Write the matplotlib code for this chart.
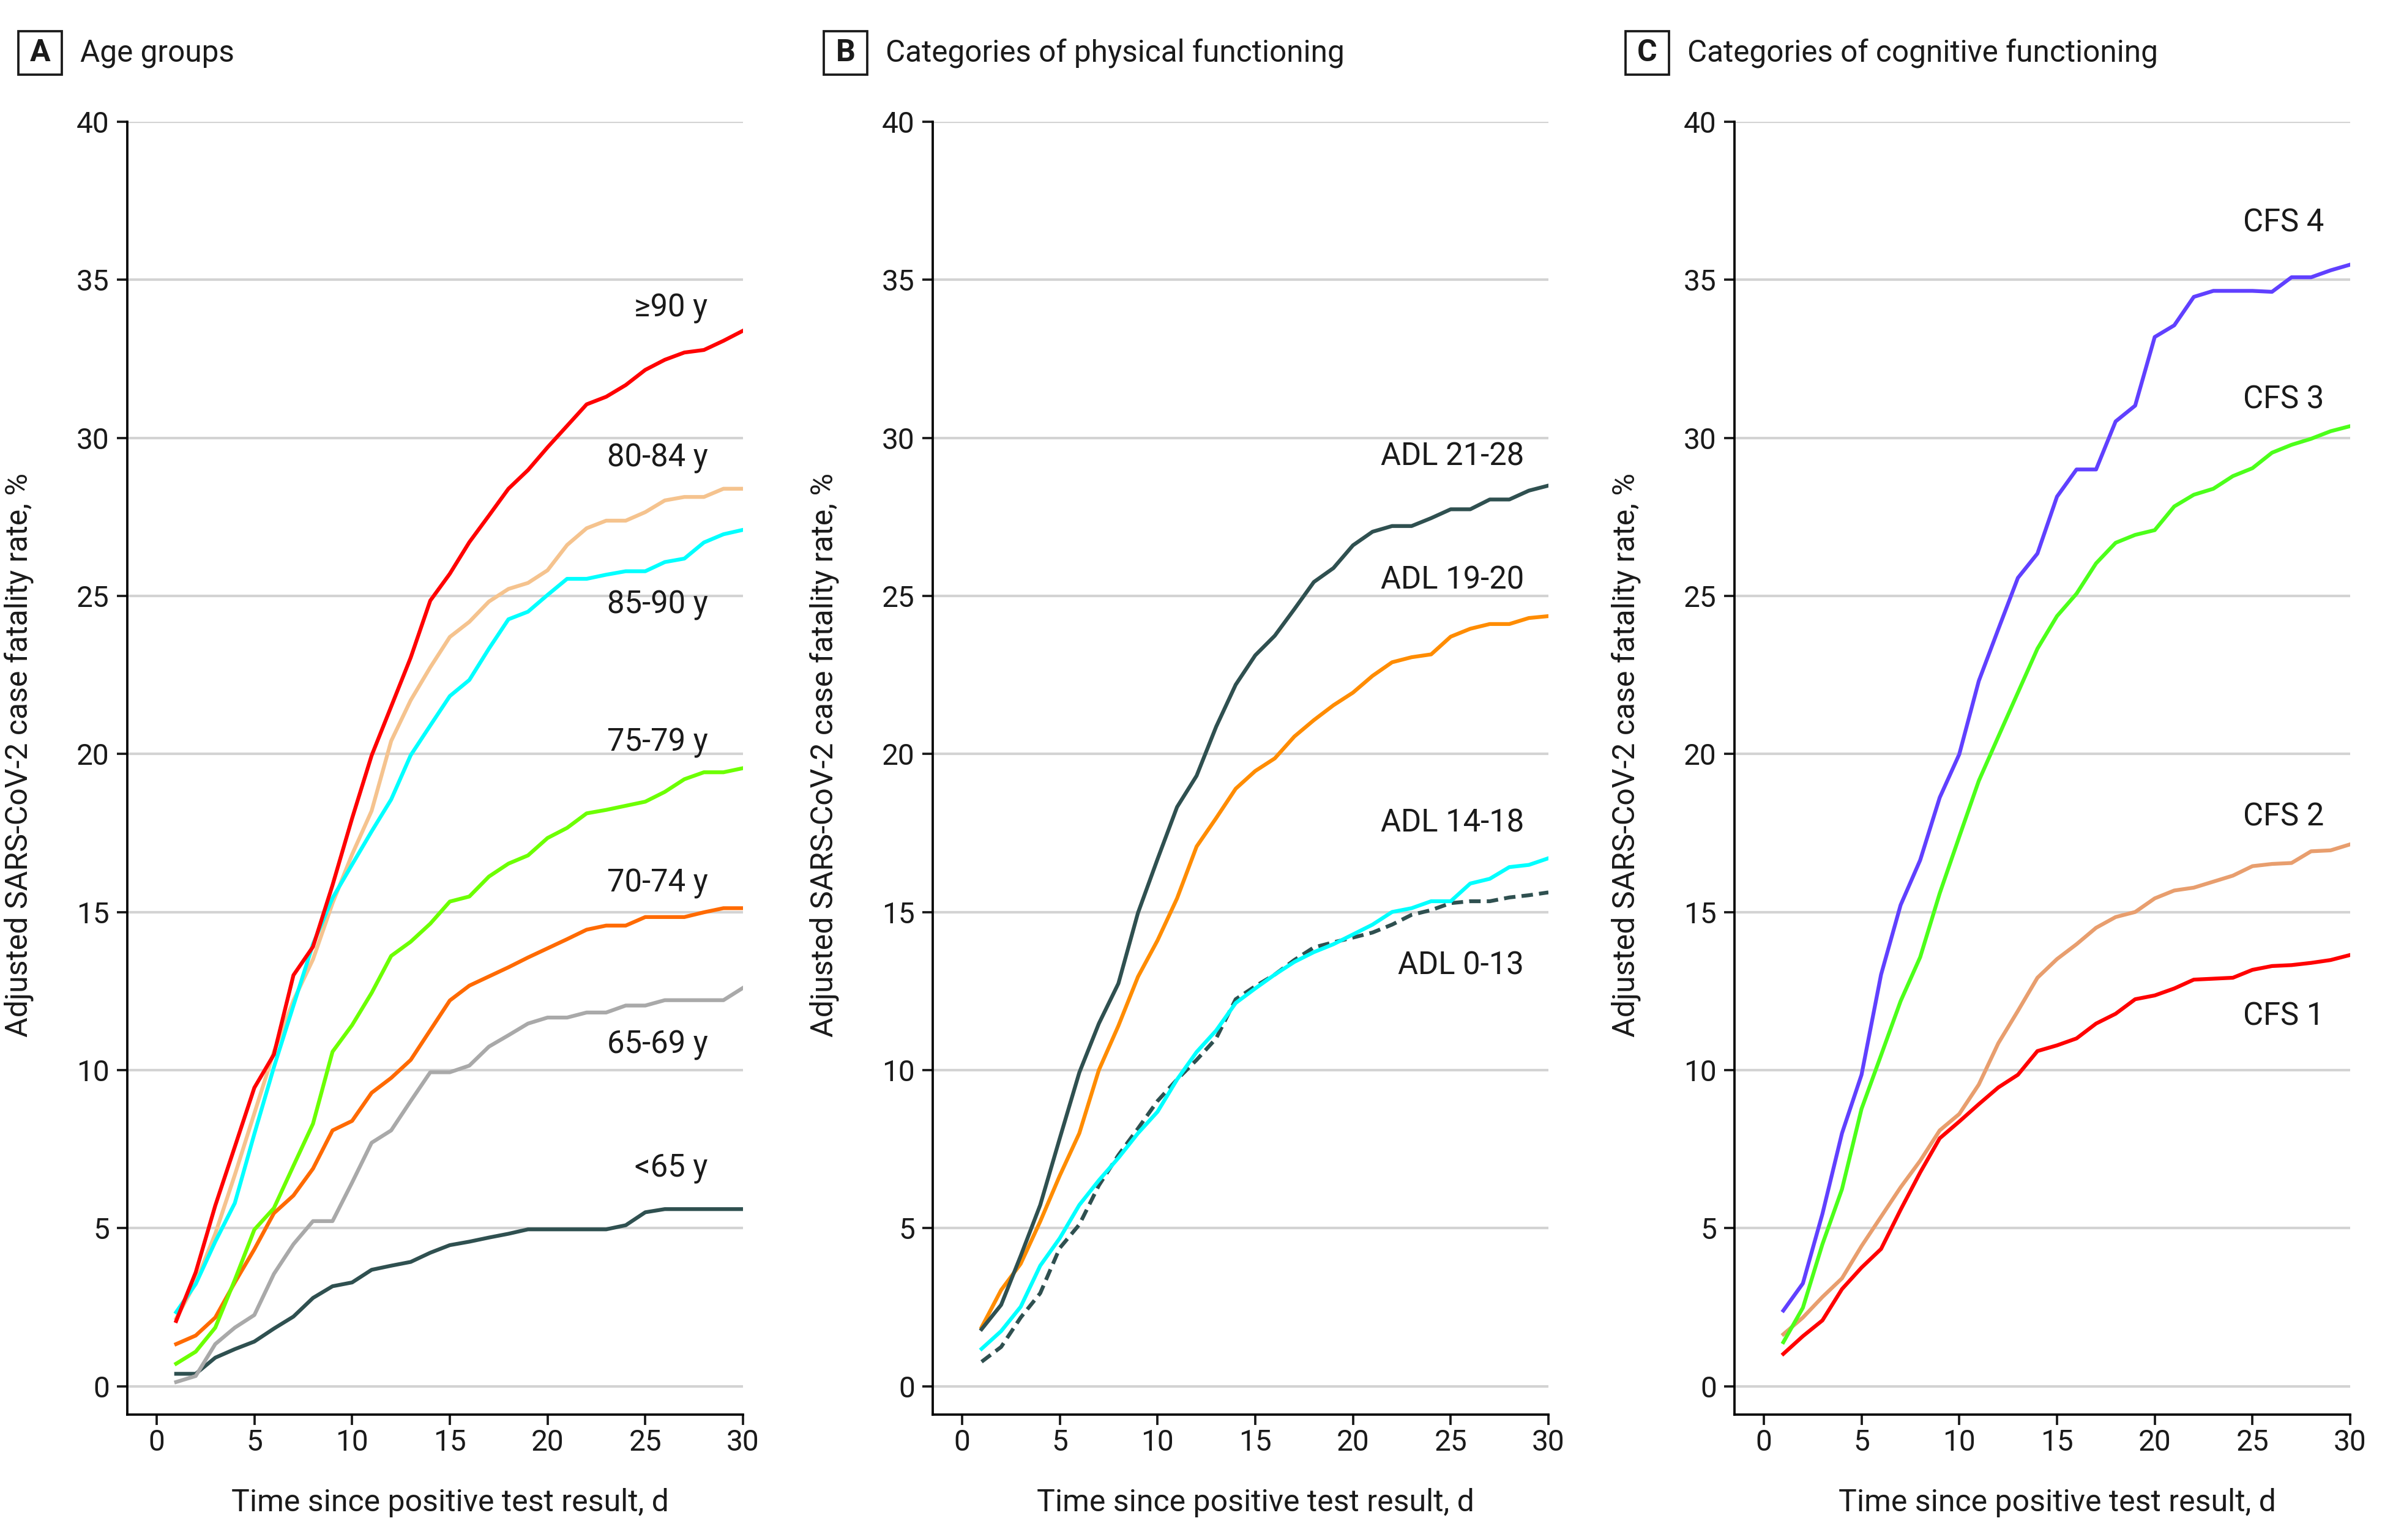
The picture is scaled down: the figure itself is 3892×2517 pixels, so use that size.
#!/usr/bin/env python3

# Adjusted SARS-CoV-2 case fatality rate over 30 days, by age group,
# physical functioning (ADL) and cognitive functioning (CFS)

import matplotlib as mpl
mpl.use('Agg')
from matplotlib import pyplot as plt
from matplotlib.patches import Rectangle

mpl.rcParams['font.family'] = ['Roboto', 'DejaVu Sans']

days = list(range(1, 31))

# panel A - age groups
age_lt65 = [0.39, 0.39, 0.90, 1.17, 1.41, 1.82, 2.20, 2.79, 3.16, 3.28,
            3.68, 3.81, 3.93, 4.22, 4.46, 4.57, 4.70, 4.82, 4.96, 4.96,
            4.96, 4.96, 4.96, 5.09, 5.50, 5.60, 5.60, 5.60, 5.60, 5.60]
age_65_69 = [0.13, 0.32, 1.33, 1.85, 2.25, 3.55, 4.49, 5.22, 5.22, 6.44,
             7.70, 8.09, 9.02, 9.93, 9.93, 10.14, 10.74, 11.10, 11.47, 11.66,
             11.66, 11.82, 11.82, 12.04, 12.04, 12.21, 12.21, 12.21, 12.21, 12.60]
age_70_74 = [1.33, 1.60, 2.17, 3.28, 4.33, 5.47, 6.03, 6.88, 8.09, 8.39,
             9.28, 9.75, 10.32, 11.26, 12.20, 12.67, 12.96, 13.25, 13.56, 13.85,
             14.14, 14.44, 14.57, 14.57, 14.84, 14.84, 14.84, 14.99, 15.12, 15.12]
age_75_79 = [0.71, 1.09, 1.85, 3.36, 4.95, 5.63, 6.97, 8.30, 10.58, 11.42,
             12.44, 13.61, 14.06, 14.63, 15.33, 15.49, 16.12, 16.53, 16.79, 17.34,
             17.66, 18.12, 18.23, 18.36, 18.49, 18.80, 19.20, 19.42, 19.42, 19.55]
age_80_84 = [2.14, 3.28, 4.82, 6.68, 8.63, 10.58, 12.20, 13.50, 15.28, 16.82,
             18.20, 20.41, 21.70, 22.74, 23.70, 24.18, 24.82, 25.22, 25.41, 25.81,
             26.61, 27.14, 27.38, 27.38, 27.65, 28.02, 28.13, 28.13, 28.39, 28.39]
age_85_90 = [2.34, 3.23, 4.57, 5.79, 7.98, 10.09, 12.04, 13.98, 15.44, 16.50,
             17.55, 18.56, 19.96, 20.90, 21.83, 22.34, 23.33, 24.26, 24.50, 25.03,
             25.54, 25.54, 25.67, 25.78, 25.78, 26.07, 26.18, 26.69, 26.95, 27.09]
age_ge90 = [2.06, 3.60, 5.71, 7.57, 9.44, 10.49, 13.00, 13.90, 15.85, 17.96,
            19.95, 21.50, 23.05, 24.85, 25.70, 26.70, 27.54, 28.39, 28.98, 29.70,
            30.38, 31.06, 31.30, 31.67, 32.15, 32.47, 32.70, 32.78, 33.07, 33.39]

# panel B - activities of daily living
adl_21_28 = [1.80, 2.57, 4.12, 5.73, 7.84, 9.92, 11.47, 12.74, 14.97, 16.67,
             18.32, 19.31, 20.86, 22.19, 23.12, 23.74, 24.58, 25.44, 25.88, 26.60,
             27.03, 27.21, 27.21, 27.46, 27.74, 27.74, 28.05, 28.05, 28.33, 28.49]
adl_19_20 = [1.86, 3.04, 3.87, 5.21, 6.66, 8.00, 10.00, 11.40, 12.95, 14.10,
             15.43, 17.07, 17.97, 18.90, 19.46, 19.86, 20.55, 21.07, 21.54, 21.94,
             22.47, 22.90, 23.06, 23.15, 23.71, 23.96, 24.11, 24.11, 24.30, 24.36]
adl_14_18 = [1.18, 1.74, 2.51, 3.81, 4.68, 5.73, 6.51, 7.22, 8.00, 8.68,
             9.70, 10.57, 11.25, 12.12, 12.58, 13.02, 13.42, 13.73, 13.98, 14.29,
             14.60, 15.00, 15.12, 15.34, 15.34, 15.90, 16.05, 16.42, 16.49, 16.70]
adl_0_13 = [0.77, 1.24, 2.17, 2.94, 4.37, 5.11, 6.35, 7.31, 8.15, 9.02,
            9.70, 10.32, 11.00, 12.24, 12.65, 13.02, 13.48, 13.88, 14.04, 14.19,
            14.35, 14.60, 14.91, 15.06, 15.28, 15.34, 15.34, 15.46, 15.53, 15.62]

# panel C - clinical frailty scale
cfs_4 = [2.39, 3.25, 5.45, 8.00, 9.85, 13.02, 15.22, 16.64, 18.62, 19.99,
         22.31, 23.95, 25.57, 26.34, 28.14, 29.00, 29.00, 30.52, 31.02, 33.19,
         33.56, 34.46, 34.65, 34.65, 34.65, 34.62, 35.08, 35.08, 35.30, 35.48]
cfs_3 = [1.39, 2.48, 4.49, 6.23, 8.77, 10.47, 12.18, 13.57, 15.59, 17.38,
         19.15, 20.55, 21.94, 23.33, 24.36, 25.07, 26.03, 26.68, 26.93, 27.08,
         27.83, 28.20, 28.39, 28.79, 29.04, 29.53, 29.78, 29.97, 30.21, 30.37]
cfs_2 = [1.64, 2.17, 2.82, 3.41, 4.43, 5.36, 6.29, 7.13, 8.09, 8.61,
         9.54, 10.85, 11.87, 12.92, 13.51, 13.98, 14.50, 14.84, 15.00, 15.43,
         15.68, 15.77, 15.96, 16.15, 16.45, 16.52, 16.55, 16.92, 16.95, 17.14]
cfs_1 = [1.02, 1.58, 2.08, 3.07, 3.75, 4.34, 5.58, 6.76, 7.84, 8.37,
         8.92, 9.45, 9.85, 10.60, 10.78, 11.00, 11.47, 11.78, 12.24, 12.36,
         12.58, 12.86, 12.89, 12.92, 13.17, 13.29, 13.32, 13.39, 13.48, 13.64]

panel_letters = ['A', 'B', 'C']
panel_titles = ['Age groups', 'Categories of physical functioning',
                'Categories of cognitive functioning']

# (series, color, linestyle, label, label x, label y)
panels = [
    [(age_lt65, '#2f5050', '-', '<65 y', 28.2, 6.9),
     (age_65_69, '#a9a9a9', '-', '65-69 y', 28.2, 10.8),
     (age_70_74, '#ff6a00', '-', '70-74 y', 28.2, 15.9),
     (age_75_79, '#6cff00', '-', '75-79 y', 28.2, 20.35),
     (age_80_84, '#f5c38e', '-', '80-84 y', 28.2, 29.35),
     (age_85_90, '#00ffff', '-', '85-90 y', 28.2, 24.7),
     (age_ge90, '#ff0000', '-', '\u226590 y', 28.2, 34.1)],
    [(adl_0_13, '#2f5050', (0, (3, 1.6)), 'ADL 0-13', 28.75, 13.3),
     (adl_14_18, '#00ffff', '-', 'ADL 14-18', 28.75, 17.8),
     (adl_19_20, '#ff8c00', '-', 'ADL 19-20', 28.75, 25.5),
     (adl_21_28, '#2f5050', '-', 'ADL 21-28', 28.75, 29.4)],
    [(cfs_1, '#ff0000', '-', 'CFS 1', 28.65, 11.7),
     (cfs_2, '#e89e6e', '-', 'CFS 2', 28.65, 18.0),
     (cfs_3, '#4cff1a', '-', 'CFS 3', 28.65, 31.2),
     (cfs_4, '#6040ff', '-', 'CFS 4', 28.65, 36.8)],
]

W, H = 3892, 2517
fig = plt.figure(figsize=(W / 300, H / 300), dpi=300)

ax_lefts = [208, 1524, 2834]   # pixel position of the y spine
ax_width = 1006
ax_top, ax_bottom = 199, 2312

for i, series in enumerate(panels):
    left = ax_lefts[i]
    ax = fig.add_axes([left / W, 1 - ax_bottom / H, ax_width / W, (ax_bottom - ax_top) / H])
    ax.set_xlim(-1.5, 30)
    ax.set_ylim(-0.9, 40)
    for s in ['top', 'right']:
        ax.spines[s].set_visible(False)
    ax.spines['left'].set_bounds(-0.9, 40)
    ax.spines['left'].set_linewidth(0.9)
    ax.spines['bottom'].set_linewidth(0.9)

    # horizontal gridlines
    for yv in range(0, 41, 5):
        ax.axhline(yv, color='#d3d3d3', lw=1.0, zorder=0)

    for vals, col, ls, lab, lx, ly in series:
        ax.plot(days, vals, color=col, ls=ls, lw=1.5, zorder=3)
        ax.text(lx, ly, lab, ha='right', va='center', fontsize=12.2, color='#1a1a1a')

    ax.set_xticks(range(0, 31, 5))
    ax.set_yticks(range(0, 41, 5))
    ax.tick_params(axis='both', labelsize=11.5, length=4, width=0.9, pad=3,
                   colors='#1a1a1a', direction='out')
    ax.tick_params(axis='x', pad=1.5)
    ax.set_xlabel('Time since positive test result, d', fontsize=12, color='#1a1a1a')
    ax.set_ylabel('Adjusted SARS-CoV-2 case fatality rate, %', fontsize=12, color='#1a1a1a')
    ax.xaxis.set_label_coords(0.524, -0.057)
    ax.yaxis.set_label_coords(-0.152, 0.51)

    # boxed panel letter and title
    bx = (left - 178) / W
    fig.patches.append(Rectangle((bx, 1 - 122 / H), 71 / W, 71 / H, transform=fig.transFigure,
                                 fill=False, edgecolor='#1a1a1a', lw=0.9))
    fig.text(bx + 35.5 / W, 1 - 87 / H, panel_letters[i], ha='center', va='center',
             fontsize=12, fontweight='bold', color='#1a1a1a')
    fig.text(bx + 101 / W, 1 - 87 / H, panel_titles[i], ha='left', va='center',
             fontsize=11.9, color='#1a1a1a')

plt.savefig('out.png', dpi=300)
plt.close()
